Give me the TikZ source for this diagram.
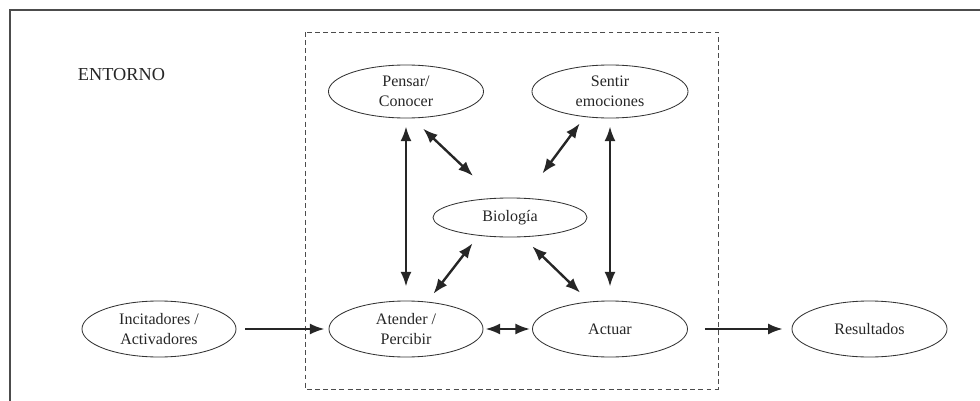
\documentclass[tikz,border=0pt]{standalone}
\usepackage{fontspec}
\setmainfont{Liberation Serif}
\usetikzlibrary{shapes.geometric,arrows.meta}

\begin{document}
\begin{tikzpicture}[
  x=0.025cm, y=-0.025cm,
  oval/.style={draw=black!80, line width=0.6pt, ellipse, inner sep=0pt, minimum width=3.85cm, minimum height=1.4cm, align=center, text=black!85, font=\fontsize{11.4}{14.2}\selectfont},
  arr/.style={-{Latex[length=10.5pt,width=8pt]}, line width=1.7pt, draw=black!85},
  dbl/.style={arr, {Latex[length=10.5pt,width=8pt]}-{Latex[length=10.5pt,width=8pt]}}
]
\useasboundingbox (0,0) rectangle (980,401);
\draw[black!70, line width=1pt] (980,10) -- (10,10) -- (10,401);
\draw[black!70, line width=0.6pt, dash pattern=on 3.5pt off 2.3pt] (305,32) rectangle (718,389);
\node[anchor=west, text=black!85, font=\fontsize{13}{15}\selectfont] (env) at (73,75) {ENTORNO};

\node[oval] (inc) at (159,329) {Incitadores /\\Activadores};
\node[oval] (ate) at (406,329) {Atender /\\Percibir};
\node[oval, minimum width=3.875cm] (act) at (610,329) {Actuar};
\node[oval, minimum width=3.875cm] (res) at (869.5,329) {Resultados};
\node[oval, minimum width=3.875cm, minimum height=1.325cm] (pen) at (406,91.5) {Pensar/\\Conocer};
\node[oval, minimum width=3.9cm, minimum height=1.325cm] (sen) at (610,91.5) {Sentir\\emociones};
\node[oval, minimum height=0.975cm] (bio) at (510,217.5) {Biología};

\draw[arr, shorten <=0.22cm, shorten >=0.1cm] (inc) -- (ate);
\draw[dbl, shorten <=0.05cm, shorten >=0.05cm] (ate) -- (act);
\draw[arr, shorten <=0.42cm, shorten >=0.22cm] (act) -- (res);
\draw[dbl, shorten <=0.2cm, shorten >=0.35cm] (pen.south) -- (ate.north);
\draw[dbl, shorten <=0.2cm, shorten >=0.35cm] (sen.south) -- (act.north);
\draw[dbl, shorten <=0.375cm, shorten >=0.8cm] (pen.-77) -- (bio.125.5);
\draw[dbl, shorten <=0.2cm, shorten >=0.76cm] (sen.-135) -- (bio.54);
\draw[dbl, shorten <=0.25cm, shorten >=0.24cm] (ate.52.5) -- (bio.-150);
\draw[dbl, shorten <=0.33cm, shorten >=0.32cm] (bio.-57) -- (act.127);
\end{tikzpicture}
\end{document}
